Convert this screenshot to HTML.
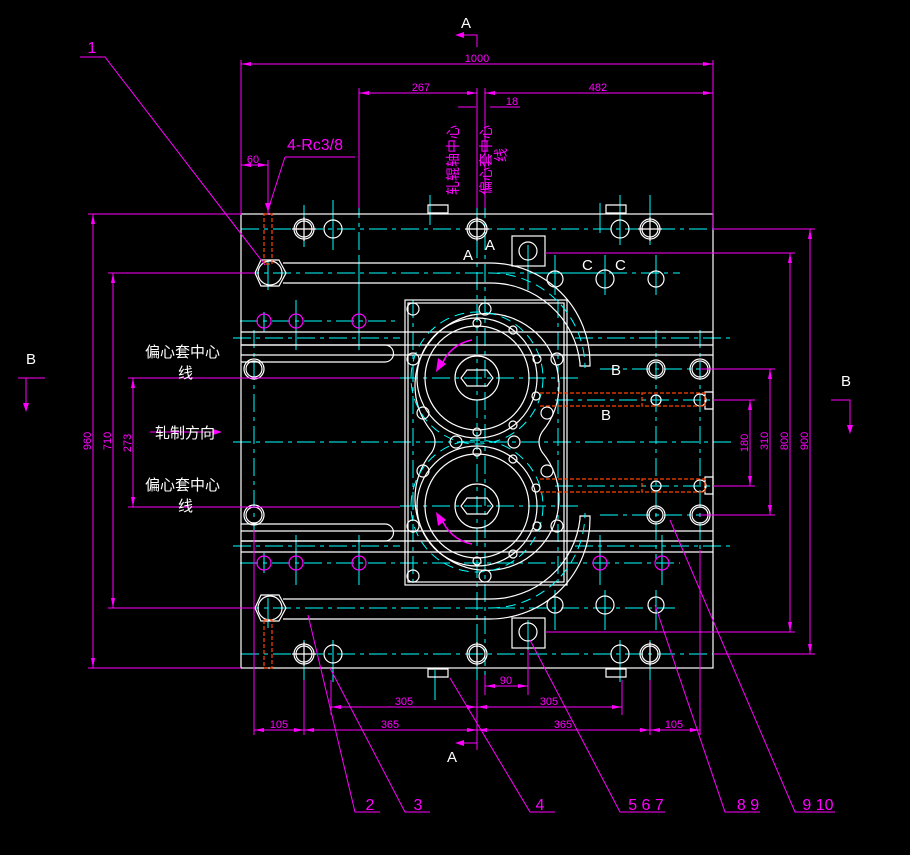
<!DOCTYPE html>
<html><head><meta charset="utf-8"><style>
html,body{margin:0;padding:0;background:#000;}
svg{display:block}
text{font-family:"Liberation Sans","Noto Sans CJK SC",sans-serif;}
</style></head><body>
<svg width="910" height="855" viewBox="0 0 910 855" xmlns="http://www.w3.org/2000/svg">
<rect width="910" height="855" fill="#000"/>
<defs>
<marker id="ar" markerWidth="10" markerHeight="6" refX="10" refY="3" orient="auto-start-reverse" markerUnits="userSpaceOnUse"><path d="M0,1 L10,3 L0,5 Z" fill="#f0f"/></marker>
</defs>

<!-- cyan centerlines -->
<g stroke="#0ff" stroke-width="1" fill="none" stroke-dasharray="18,5,4,5">
<line x1="241" y1="229" x2="713" y2="229"/>
<line x1="241" y1="273" x2="600" y2="273"/>
<line x1="545" y1="273" x2="680" y2="273"/>
<line x1="240" y1="321" x2="400" y2="321"/>
<line x1="233" y1="338" x2="400" y2="338"/>
<line x1="575" y1="338" x2="730" y2="338"/>
<line x1="400" y1="378" x2="580" y2="378"/>
<line x1="233" y1="442" x2="735" y2="442"/>
<line x1="400" y1="506" x2="580" y2="506"/>
<line x1="233" y1="546" x2="400" y2="546"/>
<line x1="575" y1="546" x2="730" y2="546"/>
<line x1="240" y1="563" x2="680" y2="563"/>
<line x1="241" y1="608" x2="680" y2="608"/>
<line x1="241" y1="654" x2="713" y2="654"/>
<line x1="555" y1="400" x2="735" y2="400"/>
<line x1="555" y1="486" x2="735" y2="486"/>
<line x1="600" y1="369" x2="735" y2="369"/>
<line x1="600" y1="515" x2="735" y2="515"/>
<line x1="477" y1="240" x2="477" y2="640"/>
<line x1="485" y1="200" x2="485" y2="690"/>
<line x1="254" y1="330" x2="254" y2="560"/>
<line x1="359" y1="200" x2="359" y2="260"/>
<line x1="656" y1="330" x2="656" y2="560"/>
<line x1="700" y1="330" x2="700" y2="560"/>
<line x1="413" y1="300" x2="413" y2="585"/>
<line x1="558" y1="300" x2="558" y2="585"/>
</g>
<!-- cyan bolt center crosses -->
<g stroke="#0ff" stroke-width="1">
<path d="M304,205v42 M333,200v50 M477,195v50 M620,195v50 M650,195v50 M268,260v30 M359,255v50 M528,245v45 M555,255v40 M605,255v40 M656,255v40 M264,312v20 M296,300v50 M359,300v50 M264,553v20 M296,535v50 M359,535v50 M600,535v50 M662,535v50 M268,598v30 M555,590v40 M605,590v40 M656,590v40 M528,620v30 M304,640v42 M333,640v42 M477,640v42 M620,640v42 M650,640v42 M600,203v30 M430,195v30 M435,670v30"/>
</g>

<!-- plate -->
<g stroke="#fff" stroke-width="1.2" fill="none">
<rect x="241" y="214" width="472" height="454"/>
<path d="M241,332H713 M241,345H713 M241,355H713 M241,531H713 M241,541H713 M241,552H713"/>
<path d="M241,345H385a8,8 0 0 1 0,17H241" />
<path d="M241,524H385a8,8 0 0 1 0,17H241" />
<rect x="405" y="300" width="162" height="285"/>
<rect x="408" y="303" width="156" height="279"/>
<rect x="512" y="236" width="33" height="30"/>
<rect x="512" y="618" width="33" height="30"/>
<!-- figure-8 housing outline -->
<path d="M432,432 A72,72 0 1 1 542,432 Q536,442 542,452 A72,72 0 1 1 432,452 Q438,442 432,432 Z"/>
<!-- rolls -->
<circle cx="477" cy="378" r="52"/><circle cx="477" cy="378" r="60"/><circle cx="477" cy="378" r="22"/>
<circle cx="477" cy="506" r="52"/><circle cx="477" cy="506" r="60"/><circle cx="477" cy="506" r="22"/>
<polygon points="467,370 487,370 493,378 487,386 467,386 461,378"/>
<polygon points="467,498 487,498 493,506 487,514 467,514 461,506"/>
<!-- pipes -->
<path d="M283,263H490A100,100 0 0 1 590,363v3h-10v-3A90,90 0 0 0 490,283H283"/>
<path d="M283,619H490A100,100 0 0 0 590,519v-3h-10v3A90,90 0 0 1 490,599H283"/>
<polygon points="255,273 261,260 279,260 286,273 279,286 261,286"/>
<circle cx="270" cy="273" r="12"/>
<polygon points="255,608 261,595 279,595 286,608 279,621 261,621"/>
<circle cx="270" cy="608" r="12"/>
<path d="M428,213h20v-8h-20z M606,213h20v-8h-20z M428,669h20v8h-20z M606,669h20v8h-20z"/>
<path d="M705,392h8v17h-8z M705,477h8v17h-8z"/>
</g>
<g stroke="#0ff" stroke-width="1" fill="none" stroke-dasharray="10,6">
<path d="M490,273A95,95 0 0 1 585,368"/>
<path d="M490,608A95,95 0 0 0 585,513"/>
<circle cx="477" cy="378" r="66"/>
<circle cx="477" cy="506" r="66"/>
</g>
<!-- bolt holes -->
<g stroke="#fff" stroke-width="1.2" fill="none">
<circle cx="304" cy="229" r="8"/><circle cx="304" cy="229" r="10"/>
<circle cx="333" cy="229" r="9"/>
<circle cx="477" cy="229" r="8"/><circle cx="477" cy="229" r="10"/>
<circle cx="620" cy="229" r="9"/>
<circle cx="650" cy="229" r="8"/><circle cx="650" cy="229" r="10"/>
<circle cx="528" cy="251" r="9"/>
<circle cx="555" cy="279" r="8"/><circle cx="605" cy="279" r="9"/><circle cx="656" cy="279" r="8"/>
<circle cx="304" cy="654" r="8"/><circle cx="304" cy="654" r="10"/>
<circle cx="333" cy="654" r="9"/>
<circle cx="477" cy="654" r="8"/><circle cx="477" cy="654" r="10"/>
<circle cx="620" cy="654" r="9"/>
<circle cx="650" cy="654" r="8"/><circle cx="650" cy="654" r="10"/>
<circle cx="528" cy="632" r="9"/>
<circle cx="555" cy="605" r="8"/><circle cx="605" cy="605" r="9"/><circle cx="656" cy="605" r="8"/>
<circle cx="254" cy="369" r="8"/><circle cx="254" cy="369" r="10"/>
<circle cx="254" cy="515" r="8"/><circle cx="254" cy="515" r="10"/>
<circle cx="656" cy="369" r="7"/><circle cx="656" cy="369" r="9"/>
<circle cx="700" cy="369" r="8"/><circle cx="700" cy="369" r="10"/>
<circle cx="656" cy="515" r="7"/><circle cx="656" cy="515" r="9"/>
<circle cx="700" cy="515" r="8"/><circle cx="700" cy="515" r="10"/>
<circle cx="656" cy="400" r="5"/><circle cx="700" cy="400" r="6"/>
<circle cx="656" cy="486" r="5"/><circle cx="700" cy="486" r="6"/>
<circle cx="413" cy="309" r="6"/><circle cx="485" cy="309" r="6"/>
<circle cx="413" cy="359" r="6"/><circle cx="557" cy="359" r="6"/>
<circle cx="423" cy="413" r="6"/><circle cx="547" cy="413" r="6"/>
<circle cx="456" cy="442" r="6"/><circle cx="514" cy="442" r="6"/>
<circle cx="423" cy="471" r="6"/><circle cx="547" cy="471" r="6"/>
<circle cx="413" cy="526" r="6"/><circle cx="557" cy="526" r="6"/>
<circle cx="413" cy="576" r="6"/><circle cx="485" cy="576" r="6"/>
<circle cx="477" cy="323" r="4"/><circle cx="513" cy="330" r="4"/><circle cx="537" cy="359" r="4"/><circle cx="536" cy="396" r="4"/><circle cx="513" cy="425" r="4"/><circle cx="477" cy="432" r="4"/>
<circle cx="477" cy="452" r="4"/><circle cx="513" cy="459" r="4"/><circle cx="536" cy="488" r="4"/><circle cx="537" cy="526" r="4"/><circle cx="513" cy="554" r="4"/><circle cx="477" cy="561" r="4"/>
</g>
<g stroke="#f0f" stroke-width="1.2" fill="none">
<circle cx="264" cy="321" r="7"/><circle cx="296" cy="321" r="7"/><circle cx="359" cy="321" r="7"/>
<circle cx="264" cy="563" r="7"/><circle cx="296" cy="563" r="7"/><circle cx="359" cy="563" r="7"/>
<circle cx="600" cy="563" r="7"/><circle cx="662" cy="563" r="7"/>
</g>
<g stroke="#fff" stroke-width="1.2"><path d="M304,217v24M292,229h24M477,217v24M465,229h24M650,217v24M638,229h24M304,642v24M292,654h24M477,642v24M650,642v24"/></g>

<!-- orange dashed -->
<g stroke="#f40" stroke-width="1.2" fill="none" stroke-dasharray="4,2">
<rect x="264" y="214" width="8" height="50"/><rect x="264" y="620" width="8" height="48"/>
<path d="M540,393H642 M540,406H642"/><rect x="642" y="393" width="63" height="13"/>
<path d="M540,479H642 M540,492H642"/><rect x="642" y="479" width="63" height="13"/>
</g>
<!-- magenta rotation arrows -->
<g stroke="#f0f" stroke-width="1.5" fill="none">
<path d="M472,340A40,40 0 0 0 441,367"/><path d="M472,544A40,40 0 0 1 441,517"/>
</g>
<path d="M436,372l2,-14l8,6z M436,512l2,14l8,-6z" fill="#f0f"/>

<!-- magenta extension lines -->
<g stroke="#f0f" stroke-width="1" fill="none">
<path d="M241,60v155 M713,60v170 M359,88v120 M477,88v120 M485,88v120 M268,160v55"/>
<path d="M88,214H241 M108,273H255 M108,608H255 M88,668H241 M128,378H400 M128,507H400"/>
<path d="M713,229H815 M545,253H795 M545,632H795 M713,654H815 M700,369H775 M700,515H775 M713,400H755 M713,486H755"/>
<path d="M254,530v205 M304,680v55 M331,680v35 M477,680v70 M622,680v35 M650,680v55 M700,550v185 M485,675v20 M528,650v45"/>
</g>
<g stroke="#f0f" stroke-width="1" marker-start="url(#ar)" marker-end="url(#ar)">
<line x1="241" y1="64" x2="713" y2="64"/>
<line x1="359" y1="93" x2="477" y2="93"/>
<line x1="485" y1="93" x2="713" y2="93"/>
<line x1="241" y1="165" x2="268" y2="165"/>
<line x1="93" y1="214" x2="93" y2="668"/>
<line x1="113" y1="273" x2="113" y2="608"/>
<line x1="133" y1="378" x2="133" y2="507"/>
<line x1="810" y1="229" x2="810" y2="654"/>
<line x1="790" y1="253" x2="790" y2="632"/>
<line x1="770" y1="369" x2="770" y2="515"/>
<line x1="750" y1="400" x2="750" y2="486"/>
<line x1="331" y1="707" x2="477" y2="707"/>
<line x1="477" y1="707" x2="622" y2="707"/>
<line x1="304" y1="730" x2="477" y2="730"/>
<line x1="477" y1="730" x2="650" y2="730"/>
<line x1="254" y1="730" x2="304" y2="730"/>
<line x1="650" y1="730" x2="700" y2="730"/>
<line x1="485" y1="686" x2="528" y2="686"/>
</g>
<g stroke="#f0f" stroke-width="1" fill="none">
<path d="M458,107h18 M490,107h30"/>
<path d="M462,35H477v12"/><path d="M462,743H477v-12"/>
<path d="M18,378H45 M26,378v32 M831,400H850v32"/>
<path d="M285,157h70 M285,157L268,210"/>
<path d="M80,57h25L265,265"/>
<path d="M308,615L355,812h25"/>
<path d="M330,668L405,812h25"/>
<path d="M450,678L530,812h25"/>
<path d="M530,640L620,812h45"/>
<path d="M655,605L725,812h35"/>
<path d="M670,520L795,812h40"/>
<path d="M150,432H215"/>
</g>
<path d="M455,35l9,-3v6z M455,743l9,-3v6z M26,412l-3,-9h6z M850,434l-3,-9h6z M268,212l-3,-9h6z M222,432l-9,-3v6z" fill="#f0f"/>

<!-- texts -->
<g fill="#f0f" font-size="11" text-anchor="middle">
<text x="477" y="62">1000</text>
<text x="421" y="91">267</text>
<text x="598" y="91">482</text>
<text x="512" y="105">18</text>
<text x="253" y="163">60</text>
<text x="404" y="705">305</text>
<text x="549" y="705">305</text>
<text x="390" y="728">365</text>
<text x="563" y="728">365</text>
<text x="279" y="728">105</text>
<text x="674" y="728">105</text>
<text x="506" y="684">90</text>
<text transform="translate(91,441) rotate(-90)">960</text>
<text transform="translate(111,441) rotate(-90)">710</text>
<text transform="translate(131,443) rotate(-90)">273</text>
<text transform="translate(808,441) rotate(-90)">900</text>
<text transform="translate(788,441) rotate(-90)">800</text>
<text transform="translate(768,441) rotate(-90)">310</text>
<text transform="translate(748,443) rotate(-90)">180</text>
</g>
<g fill="#f0f" font-size="16" text-anchor="middle">
<text x="315" y="150" font-family="Liberation Mono,monospace">4-Rc3/8</text>
<text x="92" y="53">1</text>
<text x="370" y="810">2</text>
<text x="418" y="810">3</text>
<text x="540" y="810">4</text>
<text x="646" y="810">5 6 7</text>
<text x="748" y="810">8 9</text>
<text x="818" y="810">9 10</text>
</g>
<g fill="#f0f" font-size="14" text-anchor="middle">
<text transform="translate(458,160) rotate(-90)">轧辊轴中心</text>
<text transform="translate(491,160) rotate(-90)">偏心套中心</text>
<text transform="translate(506,155) rotate(-90)">线</text>
</g>
<g fill="#fff" font-size="15">
<text x="145" y="357">偏心套中心</text>
<text x="178" y="378">线</text>
<text x="155" y="438">轧制方向</text>
<text x="145" y="490">偏心套中心</text>
<text x="178" y="511">线</text>
<text x="461" y="28">A</text>
<text x="447" y="762">A</text>
<text x="26" y="364">B</text>
<text x="841" y="386">B</text>
<text x="463" y="260">A</text>
<text x="485" y="250">A</text>
<text x="582" y="270">C</text>
<text x="615" y="270">C</text>
<text x="611" y="375">B</text>
<text x="601" y="420">B</text>
</g>
</svg>
</body></html>
